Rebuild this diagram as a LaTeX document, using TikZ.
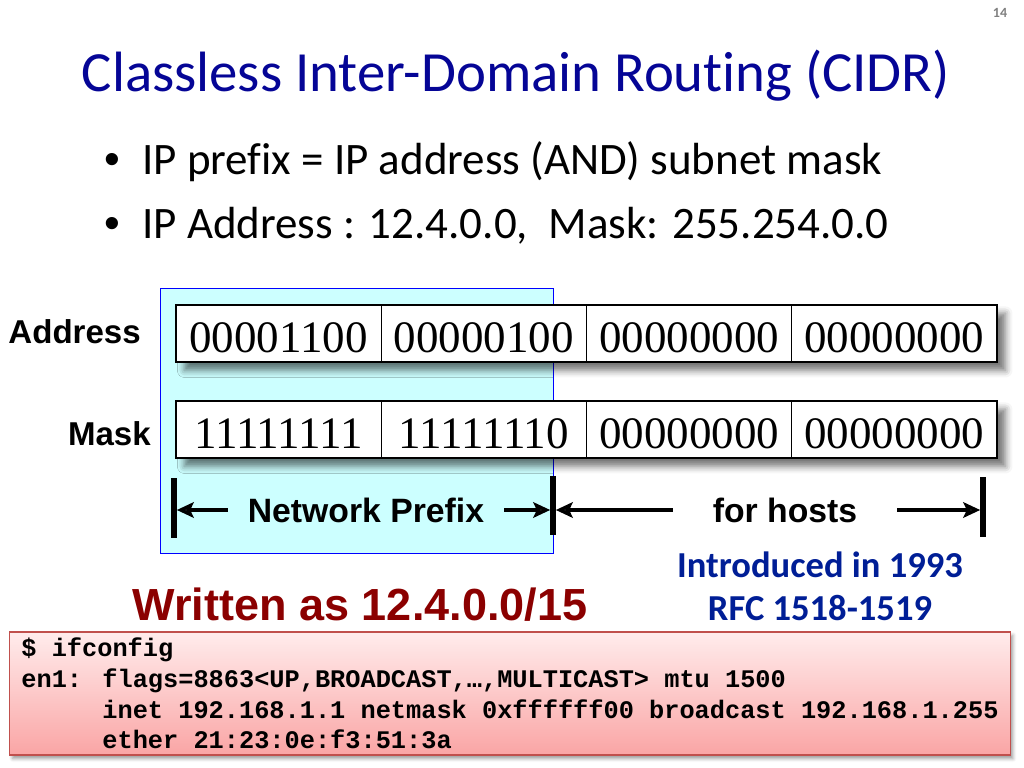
\documentclass[tikz,border=0pt]{standalone}
\usepackage{fontspec}
\setmainfont[Ligatures=CommonOff]{Carlito}
\newfontfamily\arialfont{Liberation Sans}
\newfontfamily\timesfont{Liberation Serif}
\newfontfamily\monofont{Liberation Mono}
\usetikzlibrary{positioning,arrows.meta,shadows.blur}

\definecolor{titleblue}{RGB}{5,5,150}
\definecolor{rfcblue}{RGB}{0,30,150}
\definecolor{writtenred}{RGB}{139,0,0}
\definecolor{prefixcyan}{RGB}{204,255,255}
\definecolor{cmdtop}{RGB}{255,236,236}
\definecolor{cmdbottom}{RGB}{250,165,165}
\definecolor{cmdborder}{RGB}{192,80,77}

\tikzset{
  cell/.style={draw=black, fill=white, line width=0.9pt, minimum width=5.13cm, minimum height=1.425cm,
    inner sep=0pt, outer sep=0pt, text height=0.95cm, font=\timesfont\fontsize{32}{32}\selectfont},
  rowlabel/.style={anchor=east, inner sep=0pt, font=\arialfont\bfseries\fontsize{23.5}{24}\selectfont},
  spanlabel/.style={inner ysep=0pt, font=\arialfont\bfseries\fontsize{24}{24}\selectfont},
  bullettext/.style={anchor=base west, inner sep=0pt, font=\fontsize{32}{32}\selectfont},
  arr/.style={line width=2.8pt, -{Stealth[length=12pt,width=11pt,inset=2.5pt]}, shorten >=2pt},
  bar/.style={line width=3.6pt},
  rowshadow/.style={blur shadow={shadow xshift=6pt, shadow yshift=-6pt, shadow blur radius=5pt, shadow opacity=55}},
  cmdbox/.style={draw=cmdborder, line width=0.8pt, top color=cmdtop, bottom color=cmdbottom,
    minimum width=25cm, minimum height=3.075cm, align=left,
    font=\monofont\bfseries\fontsize{18}{21.8}\selectfont,
    blur shadow={shadow xshift=2pt, shadow yshift=-2.5pt, shadow blur radius=2.5pt, shadow opacity=40}},
}

\begin{document}
\begin{tikzpicture}[x=0.025cm,y=-0.025cm]
\useasboundingbox (0,0) rectangle (1024,768);

% title and bullets
\node[text=gray, font=\bfseries\fontsize{10}{10}\selectfont] (pagenum) at (1000,13) {14};
\node[anchor=base, text=titleblue, font=\fontsize{40.4}{40}\selectfont] (title) at (516,92) {Classless Inter-Domain Routing (CIDR)};

\node[anchor=base, inner sep=0pt, font=\arialfont\fontsize{32}{32}\selectfont] (dot1) at (112,175) {•};
\node[bullettext] (b1) at (142,175) {IP prefix = IP address (AND) subnet mask};
\node[anchor=base, inner sep=0pt, font=\arialfont\fontsize{32}{32}\selectfont] (dot2) at (112,238) {•};
\node[bullettext] (b2) at (142,238) {IP Address : 12.4.0.0,~ Mask: 255.254.0.0};

% network prefix region
\draw[blue, line width=0.7pt, fill=prefixcyan] (160,288) rectangle (553,553);

% shadows under the two rows
\path[rowshadow] (176,305) rectangle (997,362);
\path[rowshadow] (176,401) rectangle (997,458);

% address row
\node[cell] (a1) at (278.6,333.5) {00001100};
\node[cell, right=0pt of a1] (a2) {00000100};
\node[cell, right=0pt of a2] (a3) {00000000};
\node[cell, right=0pt of a3] (a4) {00000000};

% mask row
\node[cell] (m1) at (278.6,429.5) {11111111};
\node[cell, right=0pt of m1] (m2) {11111110};
\node[cell, right=0pt of m2] (m3) {00000000};
\node[cell, right=0pt of m3] (m4) {00000000};

\node[rowlabel] (addr) at (141,332) {Address};
\node[rowlabel] (mask) at (151,434) {Mask};

% prefix / hosts spans
\node[spanlabel, inner xsep=0.5cm] (np) at (366,510) {Network Prefix};
\node[spanlabel, inner xsep=1.0cm] (fh) at (785,510) {for hosts};

\coordinate (lbar) at (174,510);
\coordinate (mbar) at (553,510);
\coordinate (rbar) at (983,510);
\draw[bar] (174,478) -- (174,538);
\draw[bar] (553,476) -- (553,535);
\draw[bar] (983,477) -- (983,537);

\draw[arr] (np.west) -- (lbar);
\draw[arr] (np.east) -- (mbar);
\draw[arr] (fh.west) -- (mbar);
\draw[arr] (fh.east) -- (rbar);

\node[text=writtenred, font=\arialfont\bfseries\fontsize{32}{32}\selectfont] (written) at (360,605) {Written as 12.4.0.0/15};
\node[text=rfcblue, align=center, font=\bfseries\fontsize{26}{30.6}\selectfont] (rfc) at (820,586) {Introduced in 1993\\RFC 1518-1519};

% ifconfig output
\node[cmdbox] (cmd) at (510,693.5) {\$ ifconfig\\en1: flags=8863<UP,BROADCAST,…,MULTICAST> mtu 1500\\\phantom{en1: }inet 192.168.1.1 netmask 0xffffff00 broadcast 192.168.1.255\\\phantom{en1: }ether 21:23:0e:f3:51:3a};

\end{tikzpicture}
\end{document}
